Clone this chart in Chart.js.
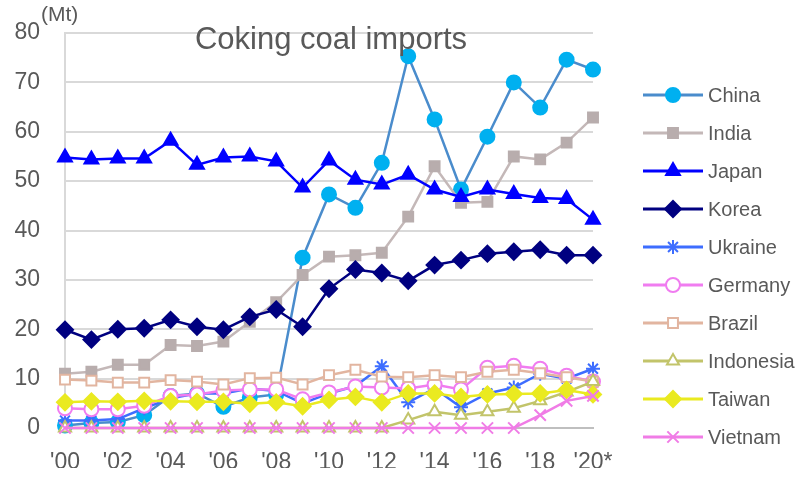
<!DOCTYPE html>
<html>
<head>
<meta charset="utf-8">
<script src="https://cdn.jsdelivr.net/npm/chart.js@4"></script>
<style>
  html, body { margin: 0; padding: 0; background: #fff; }
  #wrap { width: 810px; height: 478px; position: relative; }
</style>
</head>
<body>
<div id="wrap"><canvas id="chart"></canvas></div>
<script>
// years on the category axis
var years = ["'00","'01","'02","'03","'04","'05","'06","'07","'08","'09","'10",
             "'11","'12","'13","'14","'15","'16","'17","'18","'19","'20*"];

// coking coal imports, Mt
var china     = [0.5, 1, 1.2, 2.6, 6.5, 7, 4.3, 6.2, 6.8, 34.5, 47.3, 44.6, 53.7, 75.3, 62.5, 48.3, 59, 70, 64.9, 74.6, 72.6];
var india     = [11, 11.4, 12.8, 12.8, 16.8, 16.6, 17.5, 21.5, 25.5, 31, 34.7, 35, 35.5, 42.8, 53, 45.6, 45.8, 55, 54.4, 57.8, 62.9];
var japan     = [54.8, 54.4, 54.6, 54.6, 58.2, 53.3, 54.8, 55, 54, 48.7, 54.2, 50.3, 49.3, 51.3, 48.3, 46.8, 48.3, 47.4, 46.6, 46.4, 42.2];
var korea     = [19.9, 17.9, 20, 20.2, 21.9, 20.5, 19.9, 22.5, 24, 20.5, 28.2, 32.1, 31.4, 29.8, 33, 34, 35.3, 35.7, 36.1, 35, 35];
var ukraine   = [1.5, 1.5, 1.8, 4, 6, 7, 7, 8, 7.5, 5, 7, 8.5, 12.5, 5.2, 8, 4.2, 7, 8.2, 11, 10, 12];
var germany   = [4, 3.8, 3.8, 4.5, 6.5, 6.8, 7.6, 7.8, 7.8, 5.8, 7.2, 8.4, 8.2, 8, 8.8, 7.8, 12.2, 12.6, 12, 10.6, 9.4];
var brazil    = [9.8, 9.6, 9.2, 9.2, 9.7, 9.4, 8.8, 10.1, 10.2, 8.8, 10.7, 11.8, 10.4, 10.3, 10.7, 10.3, 11.4, 11.8, 11.1, 10.3, 9.4];
var indonesia = [0, 0, 0, 0, 0, 0, 0, 0, 0, 0, 0, 0, 0, 1.6, 3.3, 2.6, 3.3, 4, 5.5, 7.3, 9.4];
var taiwan    = [5.2, 5.4, 5.3, 5.5, 5.4, 5.3, 5.3, 4.9, 5.2, 4.4, 5.7, 6.3, 5.2, 7, 7, 6.3, 6.8, 6.9, 7, 7.7, 6.8];
var vietnam   = [0, 0, 0, 0, 0, 0, 0, 0, 0, 0, 0, 0, 0, 0, 0, 0, 0, 0, 2.6, 5.5, 6.5];

var yTicks = [0, 10, 20, 30, 40, 50, 60, 70, 80];

var textColor = '#595959';
var sans = '"Liberation Sans", Arial, sans-serif';

function series(label, data, line, fill, border, style, radius) {
  return {
    label: label,
    data: data,
    borderColor: line,
    borderWidth: 2.5,
    pointStyle: style,
    pointRadius: radius,
    pointBackgroundColor: fill,
    pointBorderColor: border,
    pointBorderWidth: 2,
    tension: 0,
    clip: false
  };
}

var datasets = [
  series('China', china, '#4a8ccc', '#00b0f0', '#00b0f0', 'circle', 7),
  series('India', india, '#c4b8b8', '#b8adad', '#b8adad', 'rect', 7),
  series('Japan', japan, '#0000ff', '#0000ff', '#0000ff', 'triangle', 8),
  series('Korea', korea, '#000080', '#000080', '#000080', 'rectRot', 8),
  series('Ukraine', ukraine, '#3d6dff', '#3d6dff', '#3d6dff', 'star', 7),
  series('Germany', germany, '#f07cf0', '#ffffff', '#f07cf0', 'circle', 7),
  series('Brazil', brazil, '#e2b5a0', '#ffffff', '#e2b5a0', 'rect', 7),
  series('Indonesia', indonesia, '#c2c46a', '#ffffff', '#c2c46a', 'triangle', 7),
  series('Taiwan', taiwan, '#eaea20', '#eaea20', '#eaea20', 'rectRot', 8),
  series('Vietnam', vietnam, '#f07ce6', '#f07ce6', '#f07ce6', 'crossRot', 8)
];
// later series sit on top, like the original
datasets.forEach(function (d, i) { d.order = datasets.length - i; });

var overlay = {
  id: 'overlay',
  afterDraw: function (chart) {
    var ctx = chart.ctx;
    ctx.save();
    ctx.fillStyle = textColor;
    ctx.textBaseline = 'middle';
    ctx.textAlign = 'center';
    ctx.font = '31px ' + sans;
    ctx.fillText('Coking coal imports', 331, 40);
    ctx.textAlign = 'left';
    ctx.font = '21px ' + sans;
    ctx.fillText('(Mt)', 41, 15);

    // legend: line with marker, then name
    datasets.forEach(function (d, i) {
      var y = 95 + 38 * i;
      ctx.strokeStyle = d.borderColor;
      ctx.lineWidth = 3;
      ctx.beginPath();
      ctx.moveTo(643, y);
      ctx.lineTo(703, y);
      ctx.stroke();
      ctx.fillStyle = d.pointBackgroundColor;
      ctx.strokeStyle = d.pointBorderColor;
      ctx.lineWidth = 2;
      Chart.helpers.drawPoint(ctx, {pointStyle: d.pointStyle, radius: d.pointRadius, borderWidth: 2, rotation: 0}, 673, y);
      ctx.fillStyle = textColor;
      ctx.font = '20px ' + sans;
      ctx.textAlign = 'left';
      ctx.fillText(d.label, 708, y + 1);
    });
    ctx.restore();
  }
};

new Chart(document.getElementById('chart'), {
  type: 'line',
  data: { labels: years, datasets: datasets },
  options: {
    responsive: true,
    maintainAspectRatio: false,
    animation: false,
    layout: { padding: { left: 5, top: 33, right: 217, bottom: 10 } },
    plugins: { legend: { display: false }, tooltip: { enabled: false } },
    scales: {
      x: {
        offset: false,
        grid: { display: false, drawTicks: false },
        border: { color: '#bfbfbf', width: 2 },
        ticks: {
          autoSkip: false,
          maxRotation: 0,
          padding: 21,
          color: textColor,
          font: { family: sans, size: 23 },
          callback: function (v, i) { return i % 2 === 0 ? years[i] : ''; }
        },
        afterFit: function (s) { s.height = 40; s.paddingLeft = 0; s.paddingRight = 0; }
      },
      y: {
        min: 0,
        max: 80,
        afterBuildTicks: function (s) { s.ticks = yTicks.map(function (v) { return { value: v }; }); },
        grid: { color: '#d9d9d9', lineWidth: 2, drawTicks: false },
        border: { color: '#d9d9d9', width: 2 },
        ticks: { padding: 25, color: textColor, font: { family: sans, size: 23 } },
        afterFit: function (s) { s.width = 60; s.paddingTop = 0; s.paddingBottom = 0; }
      }
    }
  },
  plugins: [overlay]
});
</script>
</body>
</html>
